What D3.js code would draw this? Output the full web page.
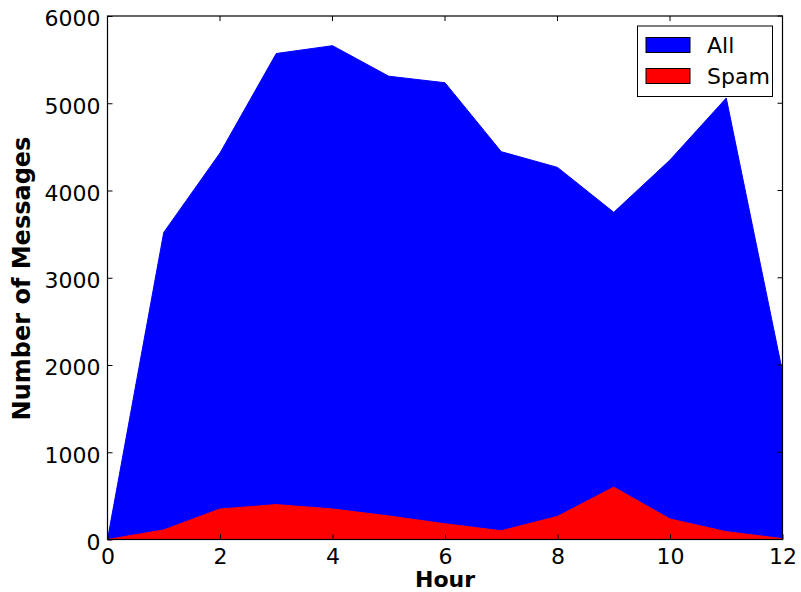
<!DOCTYPE html>
<html>
<head>
<meta charset="utf-8">
<script src="https://cdn.jsdelivr.net/npm/d3@7"></script>
<style>
  html, body { margin: 0; padding: 0; background: #fff; }
  svg { display: block; }
  text { font-family: "DejaVu Sans", sans-serif; }
</style>
</head>
<body>
<svg id="chart" width="801" height="592"></svg>
<script>
// Messages received per hour of the day
const hours = [0, 1, 2, 3, 4, 5, 6, 7, 8, 9, 10, 11, 12];
const allMessages = [0, 3520, 4430, 5570, 5660, 5310, 5235, 4445, 4265, 3750, 4350, 5060, 1920];
const spamMessages = [0, 110, 350, 400, 350, 270, 180, 100, 265, 600, 235, 90, 10];
const xTicks = [0, 2, 4, 6, 8, 10, 12];
const yTicks = [0, 1000, 2000, 3000, 4000, 5000, 6000];
const seriesNames = ["All", "Spam"];
const seriesColors = ["#0000ff", "#ff0000"];

const svg = d3.select("#chart");
const plotLeft = 107.5, plotRight = 782.5, plotTop = 16, plotBottom = 539.5;

const x = d3.scaleLinear().domain([0, 12]).range([plotLeft, plotRight]);
const y = d3.scaleLinear().domain([0, 6000]).range([plotBottom, plotTop]);

svg.append("defs").append("clipPath").attr("id", "plotClip")
  .append("rect").attr("x", plotLeft).attr("y", plotTop)
  .attr("width", plotRight - plotLeft).attr("height", plotBottom - plotTop);

const plot = svg.append("g").attr("clip-path", "url(#plotClip)");

const area = values => d3.area()
  .x((d, i) => x(hours[i]))
  .y0(y(0))
  .y1(d => y(d))(values);

[allMessages, spamMessages].forEach((vals, k) => {
  plot.append("path")
    .attr("d", area(vals))
    .attr("fill", seriesColors[k])
    .attr("stroke", seriesColors[k])
    .attr("stroke-width", 1);
});

// Axes with inward ticks
const xAxis = d3.axisBottom(x).tickValues(xTicks).tickSizeInner(-5).tickSizeOuter(0).tickPadding(9)
  .tickFormat(d3.format("d"));
const yAxis = d3.axisLeft(y).tickValues(yTicks).tickSizeInner(-5).tickSizeOuter(0).tickPadding(7)
  .tickFormat(d3.format("d"));

const gx = svg.append("g").attr("transform", `translate(0,${plotBottom})`).call(xAxis);
const gy = svg.append("g").attr("transform", `translate(${plotLeft},0)`).call(yAxis);
[gx, gy].forEach(g => {
  g.select(".domain").remove();
  g.selectAll("text").attr("font-size", 22).attr("font-family", "DejaVu Sans").attr("fill", "#000");
  g.selectAll("line").attr("stroke", "#000");
});
gy.selectAll("text").attr("dy", "0.45em");

// Mirror ticks on top and right edges
svg.append("g").selectAll("line").data(xTicks).join("line")
  .attr("x1", d => x(d)).attr("x2", d => x(d))
  .attr("y1", plotTop).attr("y2", plotTop + 5).attr("stroke", "#000");
svg.append("g").selectAll("line").data(yTicks).join("line")
  .attr("x1", plotRight).attr("x2", plotRight - 5)
  .attr("y1", d => y(d)).attr("y2", d => y(d)).attr("stroke", "#000");

// Frame
svg.append("rect").attr("x", plotLeft).attr("y", plotTop)
  .attr("width", plotRight - plotLeft).attr("height", plotBottom - plotTop)
  .attr("fill", "none").attr("stroke", "#000").attr("stroke-width", 1.2);

// Axis titles
svg.append("text").attr("x", (plotLeft + plotRight) / 2).attr("y", 587)
  .attr("text-anchor", "middle").attr("font-size", 22).attr("font-weight", "bold")
  .text("Hour");
svg.append("text").attr("transform", "translate(30,278.5) rotate(-90)")
  .attr("text-anchor", "middle").attr("font-size", 24).attr("font-weight", "bold")
  .text("Number of Messages");

// Legend
const legend = svg.append("g");
legend.append("rect").attr("x", 637.5).attr("y", 26).attr("width", 135).attr("height", 70.5)
  .attr("fill", "#fff").attr("stroke", "#000").attr("stroke-width", 1);
seriesNames.forEach((name, i) => {
  const yy = 37.5 + i * 31;
  legend.append("rect").attr("x", 646).attr("y", yy).attr("width", 44).attr("height", 15)
    .attr("fill", seriesColors[i]).attr("stroke", "#000").attr("stroke-width", 1);
  legend.append("text").attr("x", 707).attr("y", yy + 15.5)
    .attr("font-size", 22).text(name);
});
</script>
</body>
</html>
